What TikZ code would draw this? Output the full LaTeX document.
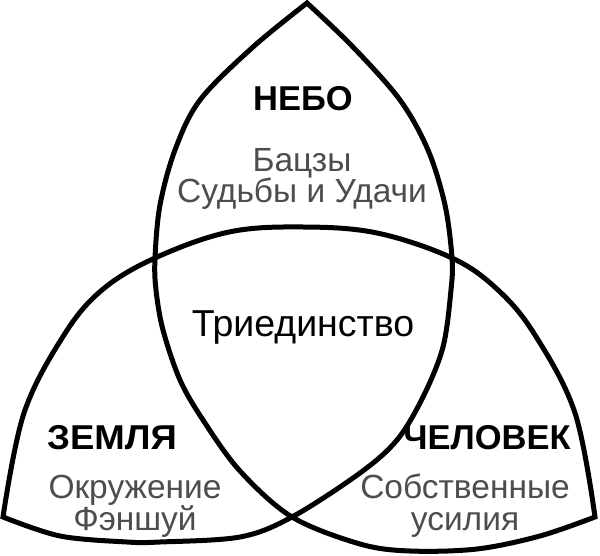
\documentclass[tikz,border=0pt]{standalone}
\usepackage{fontspec}
\setmainfont{Liberation Sans}
\definecolor{txtgray}{HTML}{4D4D4D}
\tikzset{
  curve/.style={line width=5pt, line join=miter, miter limit=20},
  head/.style={font=\fontsize{34.5}{34.5}\selectfont\bfseries, anchor=base, inner sep=0pt},
  sub/.style={font=\fontsize{33.5}{33.5}\selectfont, text=txtgray, anchor=base, inner sep=0pt},
  mid/.style={font=\fontsize{37.5}{37.5}\selectfont, anchor=base, inner sep=0pt}
}
\begin{document}
\begin{tikzpicture}[x=1pt, y=-1pt]
\useasboundingbox (0,0) rectangle (600,556);
% B (left corner -> crossing -> right side -> apex), A (apex -> left side -> crossing -> right corner), C (right corner -> middle -> left corner)
\draw[curve]
 plot[smooth, tension=0.55] coordinates {
 (3,517) (60,536) (127,542) (160,542) (240,537) (292,517) (360,473) (397,440) (423,397) (443,347) (451,290) (452,258) (445,205) (428,150) (400,100) (353,47) (307,3)}
 -- plot[smooth, tension=0.55] coordinates {
 (307,3) (253,47) (200,100) (175,150) (160,205) (155,258) (156,290) (163,330) (180,380) (203,420) (240,471) (292,517) (360,544) (410,551) (477,549) (540,536) (595,517)}
 -- plot[smooth, tension=0.6] coordinates {
 (595,517) (575,413) (535,335) (498,290) (452,258) (377,233) (303,227) (229,232) (155,258) (102,290) (64,335) (24,413) (3,517)}
 -- cycle;
\node[head] (nebo) at (303,111) {НЕБО};
\node[sub] (bazi) at (302,172) {Бацзы};
\node[sub] (fate) at (302,203) {Судьбы и Удачи};
\node[mid] (trin) at (303,336) {Триединство};
\node[head] (earth) at (112,449) {\scalebox{1.06}[1]{ЗЕМЛЯ}};
\node[sub] (env) at (135,498) {Окружение};
\node[sub] (fs) at (135,530) {Фэншуй};
\node[head] (man) at (487,449) {ЧЕЛОВЕК};
\node[sub] (eff) at (465,498) {Собственные};
\node[sub] (eff2) at (465,530) {усилия};
\end{tikzpicture}
\end{document}
